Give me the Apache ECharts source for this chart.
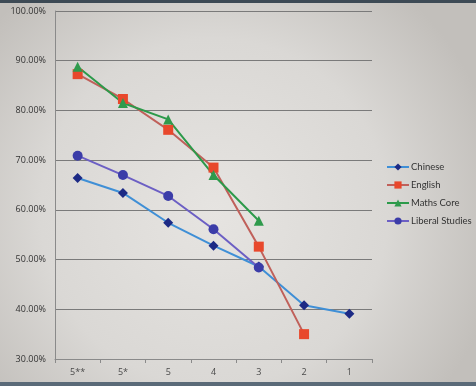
<!DOCTYPE html>
<html><head><meta charset="utf-8">
<script src="https://cdn.jsdelivr.net/npm/echarts@6/dist/echarts.min.js"></script>
<style>html,body{margin:0;padding:0;}#c{width:476px;height:386px;}</style>
</head><body><div id="c"></div>
<script>
const categories = ['5**','5*','5','4','3','2','1'];
const chinese = [66.4, 63.4, 57.4, 52.8, 48.6, 40.8, 39.1];
const english = [87.3, 82.3, 76.1, 68.5, 52.6, 35.0, null];
const mathsCore = [88.8, 81.5, 78.2, 67.0, 57.8, null, null];
const liberalStudies = [70.9, 67.0, 62.8, 56.1, 48.4, null, null];
const yTicks = [30, 40, 50, 60, 70, 80, 90, 100];

const chart = echarts.init(document.getElementById('c'));
const font = 'Open Sans';
function s(name, data, lineColor, markColor, symbol, size) {
  return {
    name, type: 'line', data, symbol, symbolSize: size,
    connectNulls: false,
    lineStyle: {color: lineColor, width: 2},
    itemStyle: {color: markColor, borderWidth: 0},
    emphasis: {disabled: true}, animation: false
  };
}
chart.setOption({
  animation: false,
  backgroundColor: {
    type: 'radial', x: 0.45, y: 0.55, r: 0.75,
    colorStops: [{offset: 0, color: '#e6e4e1'}, {offset: 0.6, color: '#dad8d5'}, {offset: 1, color: '#c2bfbb'}]
  },
  grid: {left: 55, right: 104, top: 11, bottom: 27},
  xAxis: {
    type: 'category', data: categories, boundaryGap: true,
    axisLine: {lineStyle: {color: '#8a8a8a', width: 1}},
    axisTick: {show: true, lineStyle: {color: '#8a8a8a'}, length: 4},
    axisLabel: {color: '#4a4a4a', fontSize: 9, fontFamily: font, margin: 9}
  },
  yAxis: {
    type: 'value', min: 30, max: 100, interval: 10,
    axisLine: {show: true, lineStyle: {color: '#8a8a8a'}},
    axisTick: {show: false},
    splitLine: {lineStyle: {color: '#7a7a7a', width: 1}},
    axisLabel: {color: '#333', fontSize: 9, fontFamily: font, margin: 9,
      formatter: v => yTicks.includes(v) ? v.toFixed(2) + '%' : ''}
  },
  legend: {
    orient: 'vertical', left: 381, top: 157, itemGap: 8,
    itemWidth: 22, itemHeight: 9,
    textStyle: {color: '#333', fontSize: 9.5, fontFamily: 'Lato', padding: [0,0,0,-3]},
    data: ['Chinese','English','Maths Core','Liberal Studies']
  },
  graphic: [
    {type: 'rect', shape: {x: 0, y: 0, width: 476, height: 3}, style: {fill: '#3d4a55'}},
    {type: 'rect', shape: {x: 0, y: 382, width: 476, height: 4}, style: {fill: '#5a6a78'}}
  ],
  series: [
    s('Chinese', chinese, '#3f8fd6', '#1c2a85', 'diamond', 10),
    s('English', english, '#c0605a', '#e8482c', 'rect', 10),
    s('Maths Core', mathsCore, '#2c9a4a', '#2f9a4c', 'triangle', 10),
    s('Liberal Studies', liberalStudies, '#6c5fc4', '#3b3ca8', 'circle', 10)
  ]
});
</script></body></html>
